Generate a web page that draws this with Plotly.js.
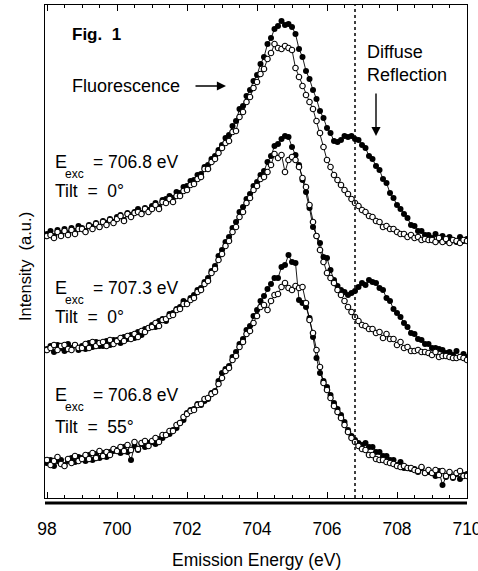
<!DOCTYPE html>
<html>
<head>
<meta charset="utf-8">
<script src="https://cdn.plot.ly/plotly-3.0.1.min.js"></script>
<style>html,body{margin:0;padding:0;background:#fff;}#chart{width:478px;height:571px;}</style>
</head>
<body>
<div id="chart"></div>
<script>
// Emission energy grid (eV)
const energy = [
698.0,698.1,698.2,698.3,698.4,698.5,698.6,698.7,698.8,698.9,
699.0,699.1,699.2,699.3,699.4,699.5,699.6,699.7,699.8,699.9,
700.0,700.1,700.2,700.3,700.4,700.5,700.6,700.7,700.8,700.9,
701.0,701.1,701.2,701.3,701.4,701.5,701.6,701.7,701.8,701.9,
702.0,702.1,702.2,702.3,702.4,702.5,702.6,702.7,702.8,702.9,
703.0,703.1,703.2,703.3,703.4,703.5,703.6,703.7,703.8,703.9,
704.0,704.1,704.2,704.3,704.4,704.5,704.6,704.7,704.8,704.9,
705.0,705.1,705.2,705.3,705.4,705.5,705.6,705.7,705.8,705.9,
706.0,706.1,706.2,706.3,706.4,706.5,706.6,706.7,706.8,706.9,
707.0,707.1,707.2,707.3,707.4,707.5,707.6,707.7,707.8,707.9,
708.0,708.1,708.2,708.3,708.4,708.5,708.6,708.7,708.8,708.9,
709.0,709.1,709.2,709.3,709.4,709.5,709.6,709.7,709.8,709.9,
710.0];

// Top pair: E_exc = 706.8 eV, tilt 0 (stacked intensity, a.u.)
const topFilled = [
264,267,262,268,265,269,265,270,267,272,
270,267,273,271,275,271,277,275,279,276,
281,283,278,285,283,286,289,285,290,288,
292,295,291,298,299,302,300,306,305,311,
312,317,318,323,324,331,333,339,342,348,
353,360,363,372,377,389,392,402,408,417,
423,434,441,454,460,469,472,477,473,474,
471,464,449,441,427,419,408,399,387,380,
370,365,357,356,358,362,361,362,359,358,
353,350,342,339,332,328,319,315,305,300,
293,289,284,280,273,272,267,267,263,263,
260,264,258,262,257,261,258,256,261,257,
259];
const topOpen = [
262,263,260,266,262,267,263,268,264,269,
269,266,272,269,274,271,276,273,278,275,
279,282,277,284,281,285,286,284,289,286,
289,293,289,296,295,299,296,302,302,307,
308,313,314,319,321,329,329,336,339,345,
350,355,357,366,367,381,386,396,401,410,
416,424,429,439,445,454,450,449,452,450,
448,430,421,412,403,396,389,377,365,351,
338,331,323,318,313,308,304,299,295,292,
288,286,282,281,277,276,271,272,269,269,
266,264,264,261,263,260,261,258,259,258,
258,256,260,256,259,255,258,257,255,258,
257];

// Middle pair: E_exc = 707.3 eV, tilt 0
const midFilled = [
149,152,146,153,150,147,154,150,153,148,
152,149,155,151,156,152,152,157,153,158,
158,155,161,159,163,160,166,163,169,170,
173,171,177,179,177,184,185,189,191,197,
195,200,203,208,210,216,220,227,232,242,
248,256,261,270,276,286,291,299,304,312,
316,323,327,336,342,352,354,359,362,361,
351,343,333,318,306,290,271,262,255,241,
240,228,218,212,208,206,203,205,207,211,
215,213,218,216,215,210,208,200,197,189,
185,181,175,171,165,164,159,158,154,154,
150,150,149,148,145,146,143,147,141,144,
141];
const midOpen = [
148,150,153,148,152,153,149,148,153,150,
150,154,150,156,152,155,156,152,158,154,
157,160,157,162,159,164,161,167,166,170,
171,175,172,178,179,182,183,188,189,194,
194,198,200,206,208,214,217,225,229,238,
244,252,257,266,271,281,286,295,300,308,
312,319,321,326,333,344,340,343,326,338,
341,338,331,320,311,293,276,262,248,236,
225,220,215,208,203,197,191,186,181,177,
173,172,169,169,165,166,160,164,159,159,
153,156,150,151,147,147,148,146,146,145,
143,146,141,142,142,141,140,140,141,140,
138];

// Bottom pair: E_exc = 706.8 eV, tilt 55
const botFilled = [
35,38,32,37,38,33,37,40,36,41,
40,37,43,38,44,40,45,41,46,47,
48,45,51,46,38,52,48,54,51,55,
56,54,59,60,63,64,68,70,75,78,
85,88,89,94,93,97,99,105,107,117,
125,129,132,141,146,154,159,168,172,182,
188,197,202,209,214,220,220,231,233,243,
236,235,198,195,191,180,161,140,125,117,
111,103,95,89,83,76,68,62,58,55,
53,55,51,51,46,46,42,42,38,38,
33,36,30,30,29,29,26,30,25,26,
25,22,27,13,21,25,20,24,19,23,
24];
const botOpen = [
38,33,37,41,34,32,39,35,42,37,
39,43,39,45,40,47,42,46,43,49,
47,51,47,53,48,56,49,55,57,52,
57,60,56,63,63,67,67,73,75,81,
84,87,88,93,94,99,100,104,106,114,
120,127,130,138,142,151,156,164,167,175,
182,191,193,188,197,203,204,211,215,210,
208,212,210,211,195,178,165,148,131,115,
108,100,92,86,80,73,66,60,56,52,
49,48,43,43,39,38,38,36,35,34,
32,31,32,30,30,28,27,31,25,28,
25,28,23,27,22,26,21,25,27,22,
22];

const tickVals = [698,700,702,704,706,708,710];
const tickText = ['98','700','702','704','706','708','710'];
const excLabels = ['706.8','707.3','706.8'];
const tiltLabels = ['0°','0°','55°'];
const markerLine = 706.8;

const FONT = 'Liberation Sans, Arial, Helvetica, sans-serif';
const L = 45, R = 467, T = 5, B = 498;
function px(x){ return (x - L) / (R - L); }
function py(y){ return (B - y) / (B - T); }

function filled(y){ return {x: energy, y: y, mode: 'lines+markers', type: 'scatter',
  line: {color: '#000', width: 0.9}, marker: {size: 6, color: '#000'}, hoverinfo: 'skip'}; }
function open(y){ return {x: energy, y: y, mode: 'lines+markers', type: 'scatter',
  line: {color: '#000', width: 0.9}, marker: {size: 5.5, color: '#fff', line: {color: '#000', width: 1.1}}, hoverinfo: 'skip'}; }

const data = [filled(topFilled), open(topOpen), filled(midFilled), open(midOpen), filled(botFilled), open(botOpen)];

const ann = [];
function txt(t, x, y, size, extra){ ann.push(Object.assign({text: t, x: px(x), y: py(y), xref: 'paper', yref: 'paper',
  xanchor: 'left', yanchor: 'middle', showarrow: false, font: {family: FONT, size: size, color: '#000'}}, extra || {})); }

txt('<b>Fig.\u00a0\u00a01</b>', 70, 35, 17);
txt('Fluorescence', 70, 86, 18);
ann.push({x: px(226), y: py(86), xref: 'paper', yref: 'paper', ax: -32, ay: 0, text: '', showarrow: true,
  arrowhead: 2, arrowsize: 1.3, arrowwidth: 1.4, arrowcolor: '#000'});
txt('Diffuse<br>Reflection', 365, 64, 18, {align: 'left'});
ann.push({x: px(376), y: py(136), xref: 'paper', yref: 'paper', ax: 0, ay: -44, text: '', showarrow: true,
  arrowhead: 2, arrowsize: 1.3, arrowwidth: 1.4, arrowcolor: '#000'});

const rowsY = [162, 288, 395];
const tiltY = [191, 317, 427];
for (let i = 0; i < 3; i++) {
  txt('E', 53, rowsY[i], 18);
  txt('exc', 63, rowsY[i] + 12, 12);
  txt('= ' + excLabels[i] + ' eV', 91, rowsY[i], 17.5);
  txt('Tilt\u00a0\u00a0=\u00a0\u00a0' + tiltLabels[i], 53, tiltY[i], 17.5);
}
ann.push({text: 'Intensity\u00a0\u00a0(a.u.)', x: px(25), y: py(267), xref: 'paper', yref: 'paper',
  xanchor: 'center', yanchor: 'middle', textangle: -90, showarrow: false, font: {family: FONT, size: 16.5, color: '#000'}});
ann.push({text: 'Emission Energy (eV)', x: px(256), y: py(560), xref: 'paper', yref: 'paper',
  xanchor: 'center', yanchor: 'middle', showarrow: false, font: {family: FONT, size: 17.5, color: '#000'}});

const layout = {
  width: 478, height: 571,
  margin: {l: L, r: 478 - R, t: T, b: 571 - B, pad: 0},
  paper_bgcolor: '#fff', plot_bgcolor: '#fff',
  showlegend: false,
  font: {family: FONT, color: '#000'},
  xaxis: {range: [697.943, 710], showline: true, mirror: 'ticks', linecolor: '#000', linewidth: 1.2,
    ticks: 'inside', ticklen: 6, tickwidth: 1, tickcolor: '#000', tickmode: 'array',
    tickvals: tickVals, ticktext: tickText, tickfont: {family: FONT, size: 17.5, color: '#000'},
    ticklabelstandoff: 15, ticklabeloverflow: 'allow', showgrid: false, zeroline: false,
    minor: {dtick: 0.5, tick0: 698, ticks: 'inside', ticklen: 3, tickwidth: 1, tickcolor: '#000', showgrid: false}},
  yaxis: {range: [0, 493], showline: true, mirror: true, linecolor: '#000', linewidth: 1.2,
    showticklabels: false, ticks: '', showgrid: false, zeroline: false},
  shapes: [
    {type: 'line', xref: 'x', yref: 'paper', x0: markerLine, x1: markerLine, y0: 0, y1: 1,
      line: {color: '#000', width: 1.5, dash: 'dot'}},
    {type: 'line', xref: 'paper', yref: 'paper', x0: 0, x1: 1, y0: py(503), y1: py(503),
      line: {color: '#000', width: 3}}
  ],
  annotations: ann
};

Plotly.newPlot('chart', data, layout, {staticPlot: true, displayModeBar: false});
</script>
</body>
</html>
